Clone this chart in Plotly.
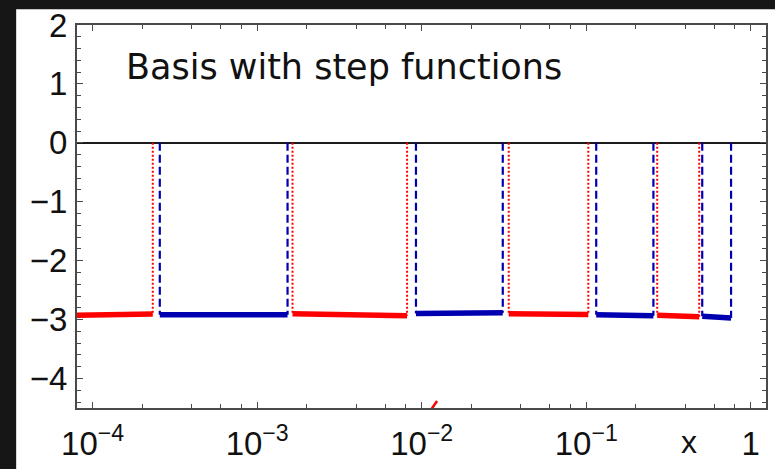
import plotly.graph_objects as go

# Two interleaved step-function bases: each bin has a start/end x and a start/end level
red_x0 = [8.0e-5, 1.64e-3, 3.38e-2, 0.270]
red_x1 = [2.32e-4, 8.15e-3, 0.103, 0.486]
red_y0 = [-2.928, -2.900, -2.900, -2.928]
red_y1 = [-2.905, -2.933, -2.912, -2.950]

blue_x0 = [2.56e-4, 9.23e-3, 0.115, 0.507]
blue_x1 = [1.53e-3, 3.11e-2, 0.256, 0.759]
blue_y0 = [-2.917, -2.895, -2.917, -2.945]
blue_y1 = [-2.917, -2.883, -2.933, -2.972]

# short red piece entering from below near x = 1e-2
stray_x = [0.0112, 0.0124]
stray_y = [-4.56, -4.38]

x_tickvals = [1e-4, 1e-3, 1e-2, 1e-1, 1]
x_ticktext = ["10<sup>−4</sup>", "10<sup>−3</sup>", "10<sup>−2</sup>", "10<sup>−1</sup>", "1"]
x_minor = [m * 10.0 ** e for e in range(-5, 1) for m in (2, 4, 6, 8)]

RED = "#ff0000"
BLUE = "#0000b0"
FRAME = "#4a4a4a"


def segments(x0, x1, y0, y1):
    xs, ys = [], []
    for a, b, c, d in zip(x0, x1, y0, y1):
        xs += [a, b, None]
        ys += [c, d, None]
    return xs, ys


def risers(xv, yv):
    xs, ys = [], []
    for a, c in zip(xv, yv):
        xs += [a, a, None]
        ys += [0, c, None]
    return xs, ys


fig = go.Figure()

# vertical edges of each bin, from zero down to the step level
rx_edges = red_x1[:1] + [v for pair in zip(red_x0[1:], red_x1[1:]) for v in pair]
ry_edges = red_y1[:1] + [v for pair in zip(red_y0[1:], red_y1[1:]) for v in pair]
bx_edges = [v for pair in zip(blue_x0, blue_x1) for v in pair]
by_edges = [v for pair in zip(blue_y0, blue_y1) for v in pair]

xs, ys = risers(rx_edges, ry_edges)
fig.add_trace(go.Scatter(x=xs, y=ys, mode="lines",
                         line=dict(color=RED, width=2, dash="2px,2px"),
                         hoverinfo="skip"))
xs, ys = risers(bx_edges, by_edges)
fig.add_trace(go.Scatter(x=xs, y=ys, mode="lines",
                         line=dict(color=BLUE, width=2.2, dash="8px,4px"),
                         hoverinfo="skip"))

# step levels
xs, ys = segments(red_x0, red_x1, red_y0, red_y1)
fig.add_trace(go.Scatter(x=xs, y=ys, mode="lines",
                         line=dict(color=RED, width=5.5), hoverinfo="skip"))
xs, ys = segments(blue_x0, blue_x1, blue_y0, blue_y1)
fig.add_trace(go.Scatter(x=xs, y=ys, mode="lines",
                         line=dict(color=BLUE, width=5.5), hoverinfo="skip"))

fig.add_trace(go.Scatter(x=stray_x, y=stray_y, mode="lines",
                         line=dict(color=RED, width=2.5), hoverinfo="skip"))

tick_font = dict(family="Liberation Sans, Arial, sans-serif", size=33, color="#111111")

fig.update_layout(
    width=775, height=469,
    margin=dict(l=77, r=7, t=25, b=54, pad=0),
    paper_bgcolor="white",
    plot_bgcolor="white",
    showlegend=False,
    xaxis=dict(
        type="log", range=[-4.095, 0.0926],
        showline=True, linecolor=FRAME, linewidth=2, mirror="ticks",
        ticks="inside", ticklen=6, tickwidth=1.3, tickcolor=FRAME,
        tickmode="array", tickvals=x_tickvals, ticktext=x_ticktext,
        tickfont=tick_font, ticklabelstandoff=5,
        showgrid=False, zeroline=False,
        minor=dict(tickmode="array", tickvals=x_minor, ticks="inside",
                   ticklen=4, tickwidth=1.2, tickcolor=FRAME, showgrid=False),
    ),
    yaxis=dict(
        range=[-4.5, 2.0], tick0=0, dtick=1,
        showline=True, linecolor=FRAME, linewidth=2, mirror="ticks",
        ticks="inside", ticklen=6, tickwidth=1.3, tickcolor=FRAME,
        tickfont=tick_font, ticklabelstandoff=1,
        showgrid=False,
        zeroline=True, zerolinecolor="#1a1a1a", zerolinewidth=1.5,
        minor=dict(dtick=0.2, ticks="inside", ticklen=4, tickwidth=1.2,
                   tickcolor=FRAME, showgrid=False),
    ),
    shapes=[
        dict(type="rect", xref="paper", yref="paper", x0=-0.2, x1=-0.0883,
             y0=-0.3, y1=1.2, fillcolor="#161616", line=dict(width=0), layer="below"),
        dict(type="rect", xref="paper", yref="paper", x0=-0.2, x1=1.2,
             y0=1.0411, y1=1.2, fillcolor="#161616", line=dict(width=0), layer="below"),
    ],
    annotations=[
        dict(text="Basis with step functions", xref="paper", yref="paper",
             x=0.0675, y=0.891, xanchor="left", yanchor="middle", showarrow=False,
             font=dict(family="DejaVu Sans", size=35, color="#111111")),
        dict(text="x", xref="paper", yref="paper", x=0.8886, y=-0.1395,
             xanchor="center", yanchor="bottom", showarrow=False, borderpad=0,
             font=dict(family="Liberation Sans, Arial, sans-serif", size=32, color="#111111")),
    ],
)

fig.write_html("out.html")
